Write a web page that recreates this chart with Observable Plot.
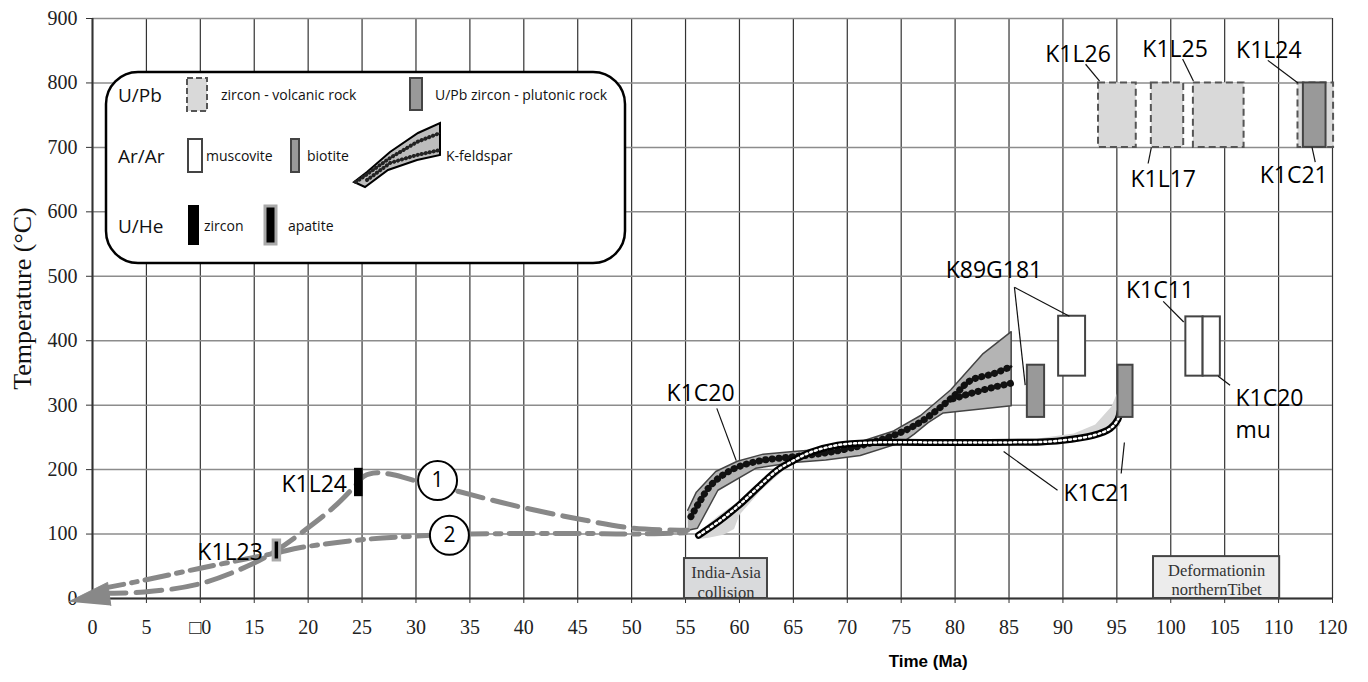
<!DOCTYPE html>
<html>
<head>
<meta charset="utf-8">
<script src="https://cdn.jsdelivr.net/npm/d3@7"></script>
<script src="https://cdn.jsdelivr.net/npm/@observablehq/plot@0.6"></script>
<style>
  body { margin: 0; background: #fff; }
  #wrap { position: relative; width: 1368px; height: 682px; }
  #wrap > svg { position: absolute; left: 0; top: 0; }
</style>
</head>
<body>
<div id="wrap"></div>
<script>
// ---------- axes ----------
const xTicks = d3.range(0, 116, 5);
const xTickLabels = ["0","5","\u25A10","15","20","25","30","35","40","45","50","55","60","65","70","75","80","85","90","95","100","105","110","120"];
const yTicks = d3.range(0, 901, 100);

// ---------- cooling paths (time Ma, temperature °C) ----------
const path1 = [[0.7,8],[4.8,10],[10,23],[15,55],[17.1,75],[19.3,101],[22.4,142],[24.2,172],[25.2,190],[26.4,195],[27.9,192],[30.1,182],[33.5,168],[36.5,155],[39.7,142],[44.6,125],[50.2,109],[55.2,106]];
const path2 = [[0.7,15],[3.8,25],[10,47],[17.1,71],[19.3,79],[25.5,92],[31.4,98],[35,100],[45,101],[50,100],[55.2,102]];
const arrowHead = [[-2.2,-5],[1.4,25],[1.7,-11]];

// ---------- K1C20 K-feldspar model envelope and fits ----------
const k1c20Upper = [[55.2,137],[56,165],[57.8,197],[59.8,213],[62.2,224],[65,228],[68,232],[71,242],[74.3,260],[76.8,284],[79.6,324],[82.6,380],[85.2,414]];
const k1c20Lower = [[55.2,106],[56.1,109],[58,168],[61.5,202],[65,211],[68,215],[71.2,222],[75.2,243],[76.2,255],[77.5,273],[78.9,288],[85.2,299]];
const k1c20FitA = [[55.5,127],[56.3,150],[57.3,175],[58.5,192],[60,205],[62,214],[65,220],[68,226],[71,236],[73,246],[75,258],[77,276],[79.8,313],[81.4,338],[83.6,349],[85.2,360]];
const k1c20FitB = [[79.8,310],[81.4,318],[83.6,328],[85.2,334]];

// ---------- K1C21 K-feldspar model envelope and fit ----------
const k1c21Upper = [[56,100],[58,128],[60,152],[62,180],[64,207],[66,227],[70,241],[80,245],[88,249],[91,256],[93,270],[94.5,298],[95.3,330]];
const k1c21Lower = [[56,92],[57,94],[58.5,99],[59.5,108],[60,130],[62,168],[64,198],[66,221],[70,235],[80,238],[88,240],[92,247],[94,256],[95.3,268]];
const k1c21Fit = [[56.2,98],[58.2,121],[60.1,147],[61.7,172],[63.5,199],[65,214],[66.6,227],[69.1,238],[72.4,242],[80,242],[88,243],[89.8,245],[92.8,253],[94.4,264],[95.1,278],[95.3,290]];

// ---------- age boxes ----------
const volcanicZircon = [
  {id:"K1L26", x1:93.3, x2:96.8, y1:700, y2:800},
  {id:"K1L17", x1:98.2, x2:101.2, y1:700, y2:800},
  {id:"K1L25", x1:102.1, x2:106.8, y1:700, y2:800},
  {id:"K1L24", x1:111.8, x2:115.1, y1:700, y2:800}
];
const plutonicZircon = [{id:"K1C21", x1:112.3, x2:114.4, y1:700, y2:800}];
const muscovite = [
  {id:"K89G181", x1:89.6, x2:92.1, y1:345, y2:438},
  {id:"K1C11", x1:101.4, x2:103.0, y1:345, y2:437},
  {id:"K1C20", x1:103.0, x2:104.6, y1:345, y2:437}
];
const biotite = [
  {id:"K89G181", x1:86.7, x2:88.3, y1:281, y2:362},
  {id:"K1C21", x1:95.1, x2:96.5, y1:281, y2:362}
];
const heZircon = [{id:"K1L24", x1:24.3, x2:25.1, y1:158, y2:202}];
const heApatite = [{id:"K1L23", x1:16.8, x2:17.4, y1:59, y2:90}];

// ---------- events ----------
const events = [
  {name:"India-Asia\ncollision", x1:54.9, x2:62.6, top:62, textY:26},
  {name:"Deformationin\nnorthernTibet", x1:98.4, x2:110.1, top:65, textY:30}
];

// ---------- path markers ----------
const pathMarkers = [{label:"1", x:32.0, y:183}, {label:"2", x:33.1, y:98}];

// ---------- sample labels ----------
const labelsMiddle = [
  {text:"K1L26", x:91.4, y:848},
  {text:"K1L25", x:100.4, y:856},
  {text:"K1L24", x:109.1, y:854},
  {text:"K1L17", x:99.3, y:654},
  {text:"K1C21", x:111.4, y:661},
  {text:"K89G181", x:83.6, y:514},
  {text:"K1C11", x:99.0, y:483},
  {text:"K1C20", x:56.4, y:323},
  {text:"K1C21", x:93.2, y:168}
];
const labelsStart = [{text:"K1C20\nmu", x:106.0, y:290}];
const labelsEnd = [
  {text:"K1L24", x:23.6, y:182},
  {text:"K1L23", x:15.8, y:76}
];
const leaders = [
  {x1:92.1, y1:829, x2:93.4, y2:803},
  {x1:101.1, y1:837, x2:102.1, y2:803},
  {x1:109.0, y1:835, x2:111.8, y2:800},
  {x1:98.2, y1:700, x2:97.9, y2:675},
  {x1:113.1, y1:700, x2:113.4, y2:677},
  {x1:85.5, y1:483, x2:86.5, y2:331},
  {x1:85.5, y1:483, x2:90.6, y2:438},
  {x1:99.3, y1:461, x2:101.2, y2:429},
  {x1:104.4, y1:345, x2:105.5, y2:331},
  {x1:57.9, y1:295, x2:59.7, y2:214},
  {x1:84.5, y1:228, x2:89.5, y2:168},
  {x1:95.7, y1:242, x2:95.4, y2:194}
];

// ---------- build ----------
const tickLabel = new Map(xTicks.map((t, i) => [t, xTickLabels[i]]));
const poly = (up, lo) => up.concat(lo.slice().reverse());
const sans = "Open Sans";
const eventFills = ["#d9dadc", "#ececec"];
const X = d => d[0], Y = d => d[1];
const labelStyle = {x: "x", y: "y", text: "text", fontSize: 23, fontFamily: sans, lineHeight: 1.4, fill: "#000"};

const chart = Plot.plot({
  width: 1368, height: 682,
  marginLeft: 92, marginRight: 36, marginTop: 18, marginBottom: 84,
  x: {domain: [0, 115]},
  y: {domain: [0, 900]},
  style: {fontFamily: "Liberation Serif", background: "transparent", color: "#222"},
  marks: [
    Plot.gridX(xTicks, {stroke: "#333", strokeOpacity: 1, strokeWidth: 1.2}),
    Plot.gridY(yTicks, {stroke: "#8c8c8c", strokeOpacity: 1, strokeWidth: 1.5}),
    Plot.axisX(xTicks, {tickSize: 5, tickPadding: 16, fontSize: 20, tickFormat: d => tickLabel.get(d), label: null, stroke: "#333"}),
    Plot.axisY(yTicks, {tickSize: 6, tickPadding: 9, fontSize: 20, label: null, stroke: "#333"}),
    Plot.ruleX([0], {stroke: "#333", strokeWidth: 2}),
    Plot.ruleY([0], {stroke: "#333", strokeWidth: 2}),
    // events
    Plot.rect(events, {x1: "x1", x2: "x2", y1: 0, y2: "top", fill: d => eventFills[events.indexOf(d)], stroke: "#444", strokeWidth: 2}),
    Plot.text(events, {x: d => (d.x1 + d.x2) / 2, y: "textY", text: "name", fontSize: 16.5, lineHeight: 1.2, fill: "#333"}),
    // K1C21 envelope
    Plot.line(poly(k1c21Upper, k1c21Lower), {x: X, y: Y, fill: "#d6d6d6", stroke: "none", curve: "linear"}),
    // K1C20 envelope
    Plot.line(poly(k1c20Upper, k1c20Lower), {x: X, y: Y, fill: "#b4b4b4", stroke: "#444", strokeWidth: 1.5}),
    // K1C20 fits (dotted black)
    Plot.line(k1c20FitA, {x: X, y: Y, stroke: "#111", strokeWidth: 2.5, curve: "catmull-rom"}),
    Plot.line(k1c20FitA, {x: X, y: Y, stroke: "#111", strokeWidth: 7, strokeDasharray: "0.1,6.5", strokeLinecap: "round", curve: "catmull-rom"}),
    Plot.line(k1c20FitB, {x: X, y: Y, stroke: "#111", strokeWidth: 2.5, curve: "catmull-rom"}),
    Plot.line(k1c20FitB, {x: X, y: Y, stroke: "#111", strokeWidth: 7, strokeDasharray: "0.1,6.5", strokeLinecap: "round", curve: "catmull-rom"}),
    // K1C21 fit (open squares)
    Plot.line(k1c21Fit, {x: X, y: Y, stroke: "#000", strokeWidth: 7, curve: "catmull-rom"}),
    Plot.line(k1c21Fit, {x: X, y: Y, stroke: "#fff", strokeWidth: 2.5, strokeDasharray: "2,3", curve: "catmull-rom"}),
    // cooling paths
    Plot.line(path1, {x: X, y: Y, stroke: "#888", strokeWidth: 5, strokeDasharray: "26,10", curve: "catmull-rom"}),
    Plot.line(path2, {x: X, y: Y, stroke: "#888", strokeWidth: 5, strokeDasharray: "24,8,6,8", curve: "catmull-rom"}),
    Plot.line(arrowHead, {x: X, y: Y, fill: "#888", stroke: "#888", strokeWidth: 1}),
    // age boxes
    Plot.rect(volcanicZircon, {x1: "x1", x2: "x2", y1: "y1", y2: "y2", fill: "#d9d9d9", stroke: "#555", strokeWidth: 2, strokeDasharray: "7,4"}),
    Plot.rect(plutonicZircon, {x1: "x1", x2: "x2", y1: "y1", y2: "y2", fill: "#999", stroke: "#444", strokeWidth: 2}),
    Plot.rect(muscovite, {x1: "x1", x2: "x2", y1: "y1", y2: "y2", fill: "#fff", stroke: "#444", strokeWidth: 2}),
    Plot.rect(biotite, {x1: "x1", x2: "x2", y1: "y1", y2: "y2", fill: "#999", stroke: "#444", strokeWidth: 2}),
    Plot.rect(heApatite, {x1: "x1", x2: "x2", y1: "y1", y2: "y2", fill: "#000", stroke: "#aaa", strokeWidth: 3}),
    Plot.rect(heZircon, {x1: "x1", x2: "x2", y1: "y1", y2: "y2", fill: "#000"}),
    // path markers
    Plot.dot(pathMarkers, {x: "x", y: "y", r: 19.5, fill: "#fff", stroke: "#000", strokeWidth: 2}),
    Plot.text(pathMarkers, {x: "x", y: "y", text: "label", fontSize: 21, fontFamily: sans, fill: "#000"}),
    // leaders + labels
    Plot.link(leaders, {x1: "x1", y1: "y1", x2: "x2", y2: "y2", stroke: "#111", strokeWidth: 1.2}),
    Plot.text(labelsMiddle, {...labelStyle, textAnchor: "middle"}),
    Plot.text(labelsStart, {...labelStyle, textAnchor: "start"}),
    Plot.text(labelsEnd, {...labelStyle, textAnchor: "end"}),
    // axis titles
    Plot.text(["Temperature (\u00B0C)"], {frameAnchor: "left", textAnchor: "middle", rotate: -90, dx: -70, dy: -10, fontSize: 26, fill: "#111"}),
    Plot.text(["Time (Ma)"], {x: 77.5, frameAnchor: "bottom", dy: 68, fontSize: 17, fontWeight: "bold", fontFamily: "Liberation Sans", fill: "#000"})
  ]
});
document.getElementById("wrap").appendChild(chart);

// ---------- legend (overlay) ----------
const L = d3.select("#wrap").append("svg").attr("width", 1368).attr("height", 682).style("pointer-events", "none");
L.append("rect").attr("x", 106).attr("y", 72).attr("width", 519).attr("height", 191).attr("rx", 32)
  .attr("fill", "#fff").attr("stroke", "#000").attr("stroke-width", 2.5);
const txt = (s, x, y, size) => L.append("text").attr("x", x).attr("y", y).attr("dy", "0.35em")
  .attr("font-family", sans).attr("font-size", size).attr("fill", "#111").text(s);
const box = (x, y, w, h, fill, stroke, sw, dash) => {
  const r = L.append("rect").attr("x", x).attr("y", y).attr("width", w).attr("height", h).attr("fill", fill);
  if (stroke) r.attr("stroke", stroke).attr("stroke-width", sw);
  if (dash) r.attr("stroke-dasharray", dash);
};
txt("U/Pb", 118, 95, 19);
txt("Ar/Ar", 118, 156, 19);
txt("U/He", 118, 226, 19);
box(187, 78, 20, 33, "#d9d9d9", "#555", 2, "6,3");
txt("zircon - volcanic rock", 221, 95, 14);
box(410, 78, 12, 32, "#999", "#444", 2);
txt("U/Pb zircon - plutonic rock", 435, 95, 14);
box(188, 139, 14, 33, "#fff", "#444", 2);
txt("muscovite", 206, 156, 14);
box(291, 139, 8, 33, "#999", "#444", 2);
txt("biotite", 307, 156, 14);
const kfUp = [[354,182],[367,172],[390,152],[418,133],[440,123]];
const kfLo = [[440,155],[417,160],[388,170],[365,187]];
L.append("path").attr("d", "M" + kfUp.concat(kfLo).join("L") + "Z").attr("fill", "#bdbdbd").attr("stroke", "#000").attr("stroke-width", 2);
const kfA = [[356,182],[390,158],[417,142],[440,133]];
const kfB = [[367,180],[390,163],[417,155],[440,150]];
[kfA, kfB].forEach(p => {
  L.append("path").attr("d", "M" + p.join("L")).attr("fill", "none").attr("stroke", "#222").attr("stroke-width", 1.5);
  L.append("path").attr("d", "M" + p.join("L")).attr("fill", "none").attr("stroke", "#222").attr("stroke-width", 4).attr("stroke-dasharray", "0.1,4").attr("stroke-linecap", "round");
});
txt("K-feldspar", 446, 156, 14);
box(188, 205, 11, 40, "#000");
txt("zircon", 204, 226, 14);
box(265, 206, 11, 38, "#000", "#aaa", 3);
txt("apatite", 288, 226, 14);
</script>
</body>
</html>
